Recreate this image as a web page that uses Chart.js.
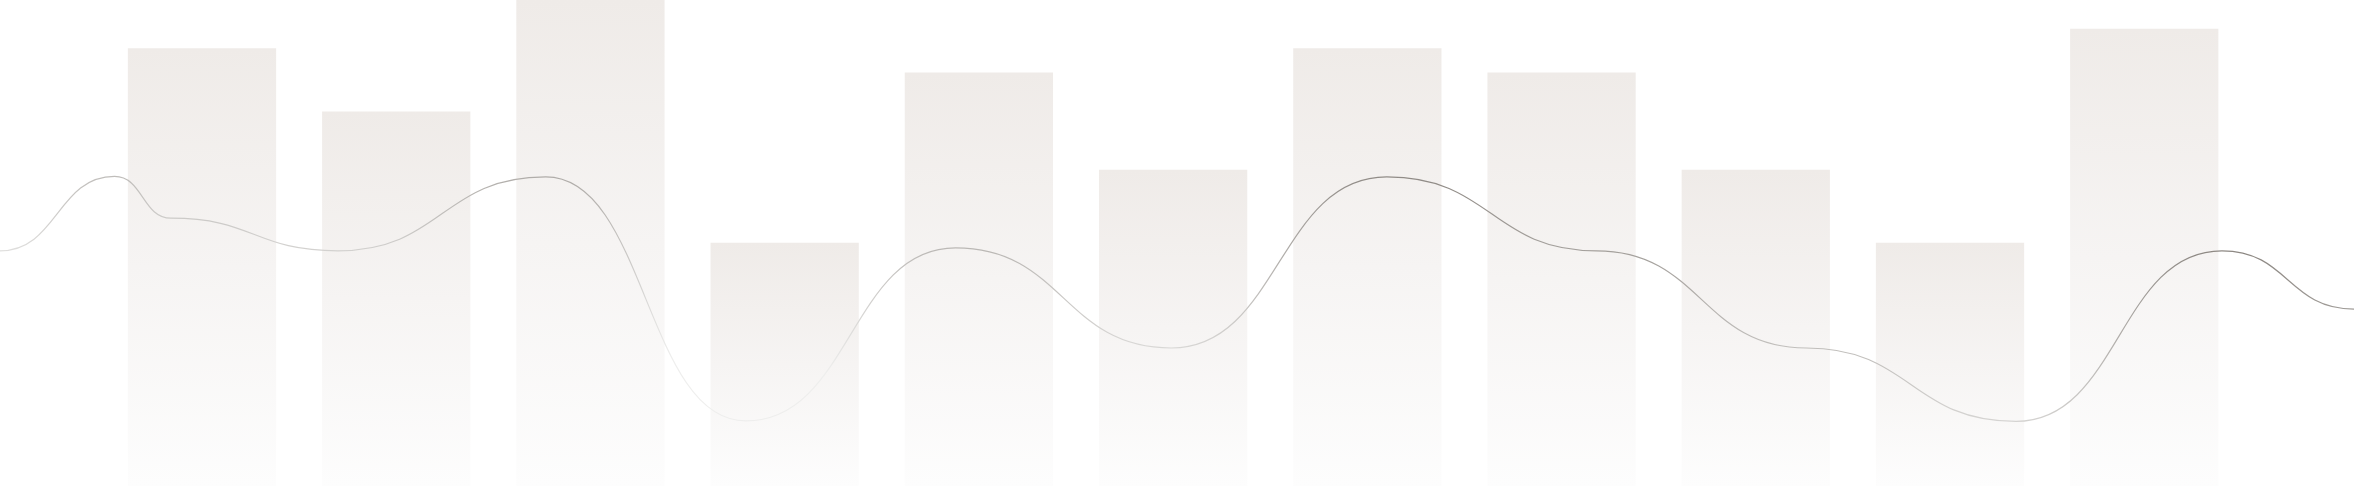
<!DOCTYPE html>
<html>
<head>
<meta charset="utf-8">
<script src="https://cdn.jsdelivr.net/npm/chart.js@4/dist/chart.umd.min.js"></script>
<style>
  html, body { margin: 0; padding: 0; background: #ffffff; }
  #wrap { position: relative; width: 2354px; height: 486px; }
</style>
</head>
<body>
<div id="wrap"><canvas id="c"></canvas></div>
<script>
// ---- data ----
const barX      = [1, 2, 3, 4, 5, 6, 7, 8, 9, 10, 11];
const barValues = [90, 77, 100, 50, 85, 65, 90, 85, 65, 50, 94];

const lineX = [-0.04, 0.55, 0.84, 1.70, 2.77, 3.80, 4.88, 5.99, 7.10, 8.18, 9.26, 10.34, 11.40, 12.08];
const lineY = [48.4, 63.7, 55.1, 48.4, 63.6, 13.4, 49.0, 28.4, 63.6, 48.4, 28.4, 13.3, 48.4, 36.4];

// ---- styles ----
const barTop = 'rgb(239,235,232)';
const barMid = 'rgb(246,244,243)';
const barBottom = 'rgb(253,253,253)';
const lineLight = 'rgb(238,238,237)';
const lineDark = 'rgb(140,135,130)';

const barData = barX.map((x, i) => ({ x: x, y: barValues[i] }));
const lineData = lineX.map((x, i) => ({ x: x, y: lineY[i] }));

function barGradient(c) {
  const chart = c.chart;
  const area = chart.chartArea;
  if (!area || c.type !== 'data' || !c.parsed) return barTop;
  const ys = chart.scales.y;
  const top = ys.getPixelForValue(c.parsed.y);
  const base = ys.getPixelForValue(0);
  const g = chart.ctx.createLinearGradient(0, top, 0, base);
  g.addColorStop(0, barTop);
  g.addColorStop(0.5, barMid);
  g.addColorStop(1, barBottom);
  return g;
}

function lineGradient(c) {
  const chart = c.chart;
  const a = chart.chartArea;
  if (!a) return lineDark;
  const w = a.right - a.left, h = a.bottom - a.top;
  const g = chart.ctx.createLinearGradient(
    a.left, a.top + 0.598 * h,
    a.left + 0.011 * w, a.top + 0.0615 * h
  );
  g.addColorStop(0, lineLight);
  g.addColorStop(1, lineDark);
  return g;
}

// curve with horizontal tangents at each point (bump-style) using the library's point elements
const bumpCurve = {
  id: 'bumpCurve',
  beforeDatasetDraw(chart, args) {
    const meta = args.meta;
    if (meta.type !== 'line' || !meta.dataset) return;
    const line = meta.dataset;
    if (line.updateControlPoints) line.updateControlPoints(chart.chartArea, meta.iScale ? meta.iScale.axis : 'x');
    const pts = meta.data;
    for (let i = 0; i < pts.length; i++) {
      const p = pts[i], prev = pts[i - 1], next = pts[i + 1];
      p.cp1x = prev ? (prev.x + p.x) / 2 : p.x;
      p.cp1y = p.y;
      p.cp2x = next ? (p.x + next.x) / 2 : p.x;
      p.cp2y = p.y;
    }
    line._path = undefined;
  }
};

new Chart(document.getElementById('c'), {
  data: {
    datasets: [
      {
        type: 'line',
        data: lineData,
        borderColor: lineGradient,
        borderWidth: 1.2,
        tension: 0.4,
        pointRadius: 0,
        pointHoverRadius: 0,
        fill: false,
        order: 0
      },
      {
        type: 'bar',
        data: barData,
        backgroundColor: barGradient,
        borderWidth: 0,
        barThickness: 'flex',
        categoryPercentage: 1.0,
        barPercentage: 0.76,
        order: 1
      }
    ]
  },
  options: {
    responsive: true,
    maintainAspectRatio: false,
    animation: false,
    layout: { padding: 0 },
    plugins: { legend: { display: false }, tooltip: { enabled: false } },
    scales: {
      x: {
        type: 'linear', display: false, offset: false,
        min: -0.04, max: 12.08,
        ticks: { includeBounds: false, stepSize: 1 },
        grid: { offset: false }
      },
      y: { display: false, min: 0, max: 100 }
    }
  },
  plugins: [bumpCurve]
});
</script>
</body>
</html>
